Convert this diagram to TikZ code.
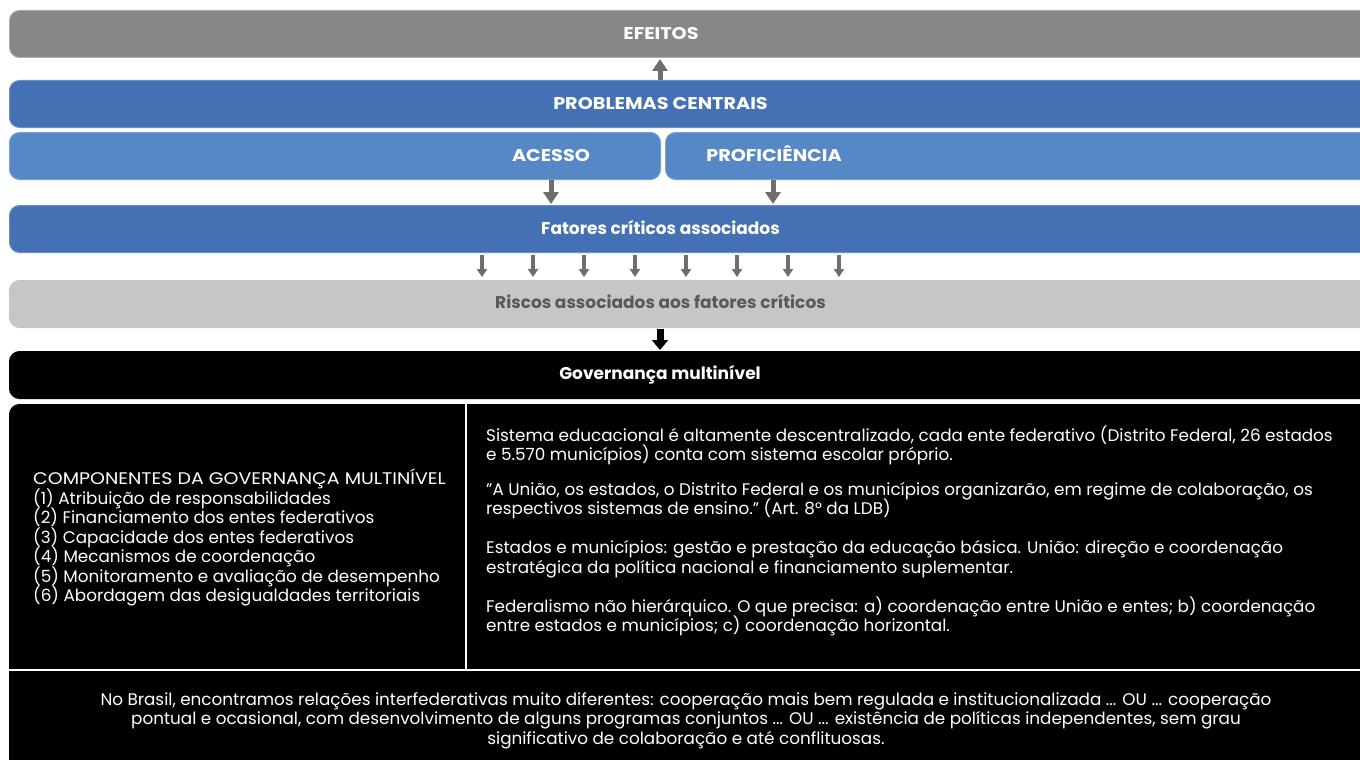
\documentclass[tikz,border=0pt]{standalone}
\usepackage{fontspec}
\setmainfont{Poppins}
\newfontfamily\widecaps[FakeStretch=1.13]{Poppins}
\usetikzlibrary{arrows.meta}
\newcommand\tightlines{\lineskiplimit=-20pt\relax\lineskip=0pt\relax}
\definecolor{efgray}{HTML}{878787}
\definecolor{efedge}{HTML}{ABABAB}
\definecolor{bluedark}{HTML}{4470B4}
\definecolor{bluedkedge}{HTML}{6A8DC6}
\definecolor{bluelight}{HTML}{5688C6}
\definecolor{bluelgedge}{HTML}{7AA0D2}
\definecolor{riskgray}{HTML}{C6C6C6}
\definecolor{risktext}{HTML}{595959}
\definecolor{arrgray}{HTML}{6E6E6E}
\tikzset{
  bar/.style={rounded corners=10pt, minimum height=47pt, anchor=north west, inner sep=0pt, line width=1pt},
  headtxt/.style={font=\bfseries\fontsize{17}{20}\selectfont, text=white, inner sep=0pt, anchor=base},
  capstxt/.style={headtxt, font=\widecaps\bfseries\fontsize{17}{20}\selectfont},
  bodytxt/.style={font=\fontsize{16.8}{19.5}\selectfont\tightlines, text=white, inner sep=0pt, align=left, anchor=base west},
  bigarrow/.style={draw=arrgray, line width=5pt, -{Triangle[width=15pt,length=12pt]}, shorten <=0pt, shorten >=1pt},
  smallarrow/.style={draw=arrgray, line width=3.5pt, -{Triangle[width=10pt,length=8pt]}, shorten <=2pt, shorten >=3pt},
  blackarrow/.style={draw=black, line width=7pt, -{Triangle[width=16pt,length=10pt]}, shorten <=1pt, shorten >=1pt},
  cellline/.style={draw=white, line width=2.5pt}
}
\begin{document}
\begin{tikzpicture}[x=1pt,y=-1pt]
\useasboundingbox (0,0) rectangle (1360,760);
\clip (0,0) rectangle (1360,760);

% top chain of bars
\node[bar, fill=efgray, draw=efedge, minimum width=1400pt] (efeitos) at (9,10) {};
\node[capstxt] (efeitosT) at (661,39.3) {EFEITOS};

\node[bar, fill=bluedark, draw=bluedkedge, minimum width=1400pt] (problemas) at (9,80) {};
\node[capstxt] (problemasT) at (660.5,109) {PROBLEMAS CENTRAIS};

\node[bar, fill=bluelight, draw=bluelgedge, minimum width=651pt] (acesso) at (9,132) {};
\node[bar, fill=bluelight, draw=bluelgedge, minimum width=740pt] (proficiencia) at (665,132) {};
\node[capstxt] (acessoT) at (551,161) {ACESSO};
\node[capstxt] (proficienciaT) at (774,161) {PROFICIÊNCIA};

\node[bar, fill=bluedark, draw=bluedkedge, minimum width=1400pt] (fatores) at (9,205) {};
\node[headtxt] (fatoresT) at (660.5,234) {Fatores críticos associados};

\node[bar, fill=riskgray, draw=riskgray, minimum width=1400pt] (riscos) at (9,280) {};
\node[headtxt, text=risktext] (riscosT) at (660.5,308) {Riscos associados aos fatores críticos};

\node[bar, fill=black, draw=black, minimum width=1400pt] (governanca) at (9,351) {};
\node[headtxt] (governancaT) at (660,379) {Governança multinível};

% connectors between the bars
\coordinate (xup) at (660,0);
\draw[bigarrow] (problemas.north -| xup) -- (efeitos.south -| xup);
\coordinate (xac) at (551,0);
\coordinate (xpr) at (773,0);
\draw[bigarrow] (acesso.south -| xac) -- (fatores.north -| xac);
\draw[bigarrow] (proficiencia.south -| xpr) -- (fatores.north -| xpr);
\foreach \i in {0,...,7}{
  \coordinate (xf) at ({482+51*\i},0);
  \draw[smallarrow] (fatores.south -| xf) -- (riscos.north -| xf);
}
\draw[blackarrow] (riscos.south -| xup) -- (governanca.north -| xup);

% table of the multilevel governance
\node[bar, fill=black, draw=black, minimum width=1400pt, minimum height=420pt] (tabela) at (9,404) {};
\coordinate (vsplit) at (466,0);
\coordinate (hsplit) at (0,670);
\draw[cellline] (tabela.north -| vsplit) -- (vsplit |- hsplit);
\draw[cellline] (tabela.west |- hsplit) -- (tabela.east |- hsplit);

% the base anchor of a multi-line node sits on its last line
\node[bodytxt] (componentes) at (33,601.6) {{\widecaps COMPONENTES DA GOVERNANÇA MULTINÍVEL}\\
(1) Atribuição de responsabilidades\\
(2) Financiamento dos entes federativos\\
(3) Capacidade dos entes federativos\\
(4) Mecanismos de coordenação\\
(5) Monitoramento e avaliação de desempenho\\
(6) Abordagem das desigualdades territoriais};

\node[bodytxt] (par1) at (486,460.7) {Sistema educacional é altamente descentralizado, cada ente federativo (Distrito Federal, 26 estados\\
e 5.570 municípios) conta com sistema escolar próprio.};
\node[bodytxt] (par2) at (486,514.5) {"A União, os estados, o Distrito Federal e os municípios organizarão, em regime de colaboração, os\\
respectivos sistemas de ensino." (Art. 8° da LDB)};
\node[bodytxt] (par3) at (486,573) {Estados e municípios: gestão e prestação da educação básica. União: direção e coordenação\\
estratégica da política nacional e financiamento suplementar.};
\node[bodytxt] (par4) at (486,631.7) {Federalismo não hierárquico. O que precisa: a) coordenação entre União e entes; b) coordenação\\
entre estados e municípios; c) coordenação horizontal.};

\node[bodytxt, align=center, anchor=base] (brasil) at (686,744) {No Brasil, encontramos relações interfederativas muito diferentes: cooperação mais bem regulada e institucionalizada ... OU ... cooperação\\
pontual e ocasional, com desenvolvimento de alguns programas conjuntos ... OU ... existência de políticas independentes, sem grau\\
significativo de colaboração e até conflituosas.};
\end{tikzpicture}
\end{document}
